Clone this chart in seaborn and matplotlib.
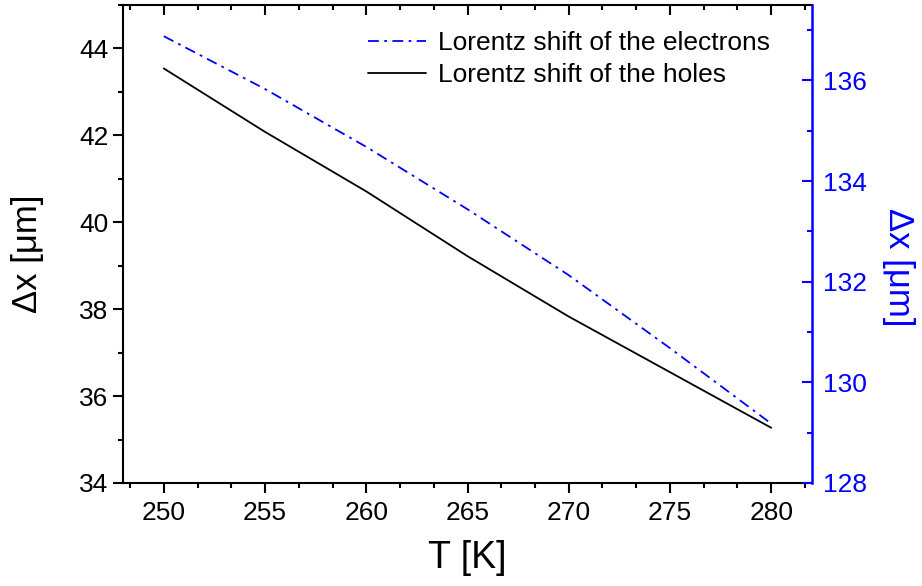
import numpy as np
import pandas as pd
import seaborn as sns
import matplotlib
matplotlib.use("Agg")
import matplotlib.pyplot as plt
from matplotlib.ticker import MultipleLocator
from matplotlib.lines import Line2D

# Temperature [K]
temperature = [250, 255, 260, 265, 270, 275, 280]
# Lorentz shift of the holes [um] (left axis)
shift_holes = [43.54, 42.08, 40.71, 39.22, 37.83, 36.55, 35.27]
# Lorentz shift of the electrons [um] (right axis)
shift_electrons = [136.88, 135.83, 134.68, 133.44, 132.13, 130.68, 129.18]

label_electrons = "Lorentz shift of the electrons"
label_holes = "Lorentz shift of the holes"

df = pd.DataFrame({"T": temperature, "holes": shift_holes, "electrons": shift_electrons})

sns.set_theme(style="ticks")
plt.rcParams["font.family"] = ["Liberation Sans", "DejaVu Sans"]
plt.rcParams["text.color"] = "black"
plt.rcParams["axes.labelcolor"] = "black"
plt.rcParams["xtick.color"] = "black"
plt.rcParams["ytick.color"] = "black"

BLUE = "#0000ff"
DASHDOT = (0, (6, 3, 1.5, 3))
POS = [0.1337, 0.1758, 0.7467, 0.8157]

fig = plt.figure(figsize=(9.22, 5.86), dpi=100)
ax = fig.add_axes(POS)
ax2 = ax.twinx()

sns.lineplot(data=df, x="T", y="holes", ax=ax, color="black", lw=1.3)
sns.lineplot(data=df, x="T", y="electrons", ax=ax2, color=BLUE, lw=1.3,
             linestyle=DASHDOT)

ax.set_xlim(248, 282)
ax.set_ylim(34, 45)
ax2.set_ylim(128, 137.5)

ax.xaxis.set_major_locator(MultipleLocator(5))
ax.xaxis.set_minor_locator(MultipleLocator(5 / 3))
ax.yaxis.set_major_locator(MultipleLocator(2))
ax.yaxis.set_minor_locator(MultipleLocator(1))
ax2.yaxis.set_major_locator(MultipleLocator(2))
ax2.yaxis.set_minor_locator(MultipleLocator(1))

fs = 19
# bottom ticks point outward
ax.tick_params(axis="x", which="both", bottom=True, top=False, direction="out",
               labelsize=fs, colors="black", width=1.5, pad=6)
ax.tick_params(axis="x", which="major", length=7)
ax.tick_params(axis="x", which="minor", length=3.5)

ax.tick_params(axis="y", which="both", left=True, right=False, direction="out",
               labelsize=fs, colors="black", width=1.5)
ax.tick_params(axis="y", which="major", length=7)
ax.tick_params(axis="y", which="minor", length=3.5)
ax2.tick_params(axis="y", which="both", right=True, left=False, direction="in",
                labelsize=fs, colors=BLUE, width=1.5, pad=8)
ax2.tick_params(axis="y", which="major", length=7)
ax2.tick_params(axis="y", which="minor", length=3.5)

for side in ["left", "bottom", "top"]:
    ax.spines[side].set_visible(True)
    ax.spines[side].set_linewidth(1.5)
    ax.spines[side].set_color("black")
for side in ["left", "bottom", "top"]:
    ax2.spines[side].set_visible(False)
ax.spines["right"].set_visible(False)
ax2.spines["right"].set_visible(True)
ax2.spines["right"].set_linewidth(1.8)
ax2.spines["right"].set_color(BLUE)

# overlay axes carrying the inward-pointing top ticks
top = fig.add_axes(POS, sharex=ax, label="top-ticks")
top.patch.set_visible(False)
for s in top.spines.values():
    s.set_visible(False)
top.yaxis.set_visible(False)
top.set_zorder(5)
top.tick_params(axis="x", which="both", bottom=False, top=True,
                labelbottom=False, labeltop=False, direction="in",
                colors="black", width=1.5)
top.tick_params(axis="x", which="major", length=7)
top.tick_params(axis="x", which="minor", length=3.5)

ax.set_xlabel("T [K]", fontsize=27, labelpad=11)
ax.set_ylabel("Δx [μm]", fontsize=25)
ax.yaxis.set_label_coords(-0.115, 0.479)
ax2.set_ylabel("Δx [μm]", fontsize=25, color=BLUE, rotation=-90)
ax2.yaxis.set_label_coords(1.15, 0.452)

handles = [
    Line2D([], [], color=BLUE, lw=1.3, linestyle=DASHDOT),
    Line2D([], [], color="black", lw=1.3),
]
ax.legend(handles, [label_electrons, label_holes], loc="upper left",
          bbox_to_anchor=(0.3555, 0.945), frameon=False, fontsize=19,
          handlelength=2.2, handletextpad=0.45, labelspacing=0.3,
          borderpad=0, borderaxespad=0)

fig.savefig("out.png", dpi=100)
